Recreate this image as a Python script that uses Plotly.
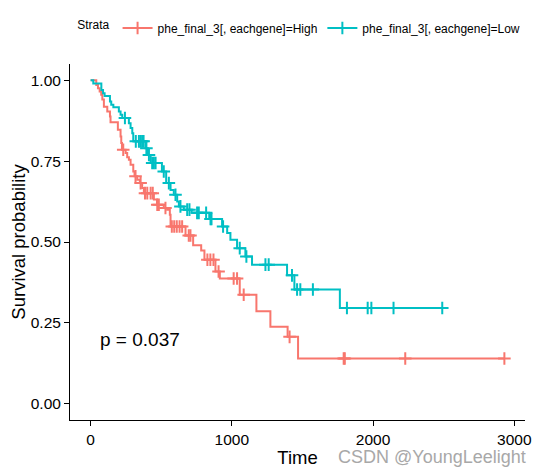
import numpy as np
import plotly.graph_objects as go

# ---- data ----
high_times = [0, 40, 52, 64, 75, 83, 94, 118, 137, 141, 193, 212, 217, 222, 248, 259, 271, 283,
              302, 311, 330, 349, 365, 377, 448, 470, 518, 542, 561, 566, 672, 726, 783, 806,
              884, 915, 1056, 1174, 1273, 1395, 1469]
high_surv = [1.0, 0.985, 0.975, 0.965, 0.955, 0.94, 0.918, 0.903, 0.888, 0.870, 0.847, 0.826,
             0.806, 0.785, 0.775, 0.762, 0.754, 0.739, 0.718, 0.703, 0.692, 0.682, 0.667, 0.651,
             0.631, 0.615, 0.605, 0.600, 0.584, 0.548, 0.520, 0.490, 0.474, 0.445, 0.409, 0.387,
             0.337, 0.286, 0.238, 0.207, 0.140]
high_end = 2930
high_censor = [231, 318, 354, 385, 401, 425, 440, 472, 483, 530, 575, 592, 610, 630, 648, 695,
               707, 827, 848, 870, 906, 1013, 1037, 1084, 1409, 1792, 1800, 2228, 2930]

low_times = [0, 19, 76, 88, 99, 137, 146, 161, 200, 212, 224, 271, 283, 295, 302, 389, 405, 425,
             505, 535, 566, 589, 613, 625, 660, 715, 840, 931, 967, 990, 1037, 1096, 1143, 1391,
             1443, 1765]
low_surv = [1.0, 0.99, 0.970, 0.960, 0.951, 0.934, 0.924, 0.916, 0.903, 0.893, 0.883, 0.867,
            0.852, 0.836, 0.811, 0.790, 0.769, 0.744, 0.718, 0.682, 0.661, 0.646, 0.625, 0.610,
            0.600, 0.590, 0.571, 0.548, 0.528, 0.507, 0.481, 0.455, 0.430, 0.397, 0.353, 0.296]
low_end = 2490
low_censor = [243, 320, 342, 354, 365, 375, 395, 413, 436, 448, 460, 518, 554, 601, 636, 684,
              700, 754, 766, 818, 849, 856, 938, 1056, 1103, 1238, 1261, 1426, 1462, 1485, 1574,
              1815, 1962, 1988, 2145, 2490]

group_names = ["phe_final_3[, eachgene]=High", "phe_final_3[, eachgene]=Low"]
colors = ["#F8766D", "#00BFC4"]
x_ticks = [0, 1000, 2000, 3000]
y_ticks = [0.0, 0.25, 0.50, 0.75, 1.00]
p_text = "p = 0.037"

FONT = "Liberation Sans, Arial, sans-serif"


def surv_at(times, surv, t):
    idx = np.searchsorted(np.array(times), np.array(t), side="right") - 1
    return list(np.array(surv)[idx])


fig = go.Figure()
groups = [(high_times, high_surv, high_end, high_censor),
          (low_times, low_surv, low_end, low_censor)]
for (tt, ss, end, cens), name, col in zip(groups, group_names, colors):
    fig.add_trace(go.Scatter(x=tt + [end], y=ss + [ss[-1]], mode="lines",
                             line=dict(color=col, width=2, shape="hv"),
                             showlegend=False, hoverinfo="skip"))
    fig.add_trace(go.Scatter(x=cens, y=surv_at(tt, ss, cens), mode="markers",
                             marker=dict(symbol="cross-thin", size=9,
                                         line=dict(color=col, width=2)),
                             showlegend=False, hoverinfo="skip"))
    # legend entry (line + cross)
    fig.add_trace(go.Scatter(x=[None], y=[None], mode="lines+markers", name=name,
                             line=dict(color=col, width=2),
                             marker=dict(symbol="cross-thin", size=9,
                                         line=dict(color=col, width=2))))

fig.add_annotation(x=50, y=0.2, xref="x", yref="y", text=p_text, showarrow=False,
                   xanchor="left", yanchor="middle",
                   font=dict(family=FONT, size=19, color="black"))
fig.add_annotation(x=1.0066, y=-0.104, xref="paper", yref="paper",
                   text="CSDN @YoungLeelight", showarrow=False,
                   xanchor="right", yanchor="middle",
                   font=dict(family=FONT, size=18, color="#A8A8A8"))

axis_common = dict(showline=True, linecolor="black", linewidth=1, ticks="outside",
                   ticklen=5, tickwidth=1, tickcolor="black", showgrid=False,
                   zeroline=False, automargin=False,
                   tickfont=dict(family=FONT, size=15.5, color="black"))

# page body has an 8px margin, so the figure is sized/offset to compensate
fig.update_layout(
    width=536, height=467,
    margin=dict(l=62, r=19, t=56, b=55, autoexpand=False),
    plot_bgcolor="white", paper_bgcolor="white",
    xaxis=dict(range=[-146, 3076], tickvals=x_ticks, ticktext=[str(v) for v in x_ticks],
               title=dict(text="Time", font=dict(family=FONT, size=18.5, color="black"),
                          standoff=4), **axis_common),
    yaxis=dict(range=[-0.05, 1.05], tickvals=y_ticks,
               ticktext=["%.2f" % v for v in y_ticks],
               title=dict(text="Survival probability",
                          font=dict(family=FONT, size=18.5, color="black"), standoff=0),
               **axis_common),
    legend=dict(orientation="h", x=0.506, xanchor="center", y=1.101, yanchor="middle",
                title=dict(text="Strata", font=dict(family=FONT, size=12, color="black")),
                font=dict(family=FONT, size=12, color="black"),
                itemwidth=30, tracegroupgap=0),
)

fig.write_html("out.html")
